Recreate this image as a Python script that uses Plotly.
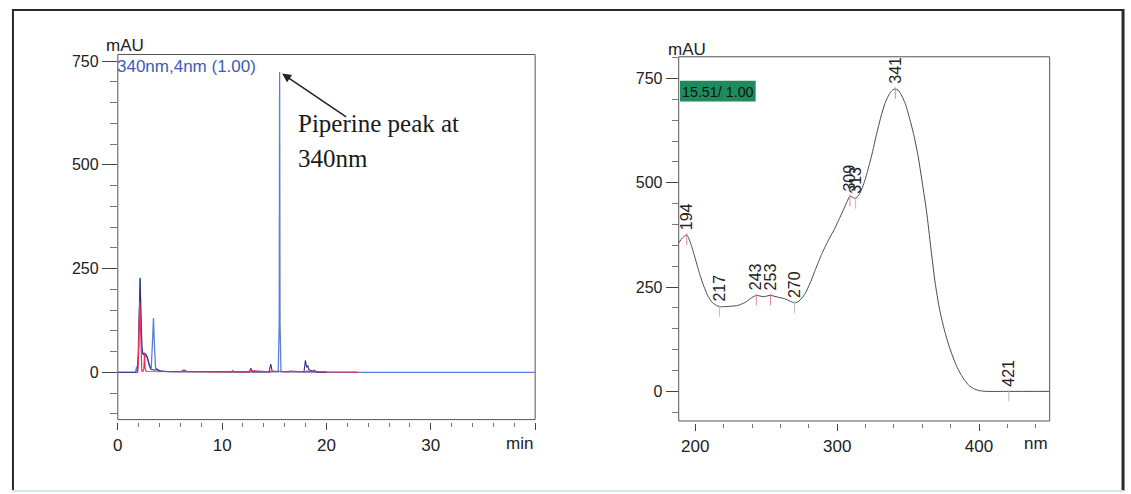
import numpy as np
import plotly.graph_objects as go

W, H = 1131, 494

# ---------------- chromatogram (retention time in min, signal in mAU) ----------------
# 340 nm channel
t_340 = [0, 1.70, 1.80, 1.86, 1.95, 2.05, 2.14, 2.24, 2.34, 2.50,
         2.80, 3.05, 3.20, 3.32, 3.42, 3.52, 3.62, 4.00, 5.00, 15.38,
         15.47, 15.51, 15.55, 15.64, 20.0, 40.0]
v_340 = [0, 0, 14, 3, 40, 160, 226, 120, 48, 42,
         36, 14, 10, 70, 131, 60, 10, 4, 1, 1,
         120, 724, 120, 1, 0, 0]

# second detector channel (dark trace)
t_dark = [0, 1.9, 2.0, 2.08, 2.14, 2.2, 2.3, 2.42, 2.55, 2.7,
          2.85, 3.0, 3.15, 3.5, 3.7, 3.9, 4.3, 6.1, 6.35, 6.6,
          12.6, 12.75, 12.9, 14.5, 14.66, 14.8, 17.85, 17.98, 18.1, 18.22,
          18.3, 18.45, 18.75, 18.85, 19.0, 20.0]
v_dark = [0, 0, 60, 200, 228, 150, 60, 44, 46, 43,
          35, 20, 8, 5, 7, 4, 2, 2, 6, 2,
          1, 10, 1, 1, 20, 2, 2, 29, 12, 16,
          7, 5, 3, 5, 1, 0]

# third channel (red trace)
t_red = [1.90, 1.98, 2.04, 2.10, 2.16, 2.22, 2.30, 2.40, 2.50, 2.56,
         2.62, 2.72, 3.0, 4.0, 6.3, 8.5, 10.9, 11.0, 11.1, 12.7,
         12.8, 14.6, 14.7, 16.4, 16.5, 18.0, 18.1, 20.0, 23.0]
v_red = [0, 30, 120, 170, 130, 40, 3, 2, 8, 45,
         10, 2, 2, 2, 2, 1, 1, 4, 1, 1,
         4, 1, 3, 1, 3, 1, 3, 1, 0.5]

# ---------------- UV spectrum of the 15.51 min peak ----------------
spec_nm = [188.3, 191, 194, 197, 200, 203, 206, 209, 212, 215,
           217, 220, 225, 230, 235, 240, 243, 248, 253, 258,
           263, 267, 270, 273, 277, 281, 285, 289, 292, 295,
           298, 301, 304, 307, 309, 311, 313, 316, 319, 322,
           325, 328, 331, 334, 337, 339, 341, 343, 345, 348,
           351, 354, 357, 360, 363, 366, 369, 372, 375, 378,
           381, 384, 387, 390, 393, 396, 400, 405, 421, 449.8]
spec_mau = [356, 368, 375, 352, 318, 282, 252, 228, 213, 206,
            203, 203, 204, 206, 213, 225, 230, 227, 230, 226,
            222, 216, 212, 216, 232, 260, 295, 328, 350, 370,
            388, 410, 432, 455, 468, 465, 462, 475, 500, 535,
            575, 620, 660, 693, 714, 722, 725, 722, 712, 690,
            655, 615, 565, 500, 432, 345, 262, 200, 155, 118,
            88, 62, 42, 26, 14, 7, 2, 0, 0, 0]

# labelled extrema of the spectrum
max_nm = [194, 243, 253, 309, 341]
min_nm = [217, 270, 313, 421]

chrom_ticks = [0, 10, 20, 30, 40]
chrom_ticktext = ["0", "10", "20", "30", ""]
spec_ticks = [200, 300, 400]
abs_ticks = [0, 250, 500, 750]

channel_label = "340nm,4nm (1.00)"
spectrum_tag = "15.51/ 1.00"

SANS = "Liberation Sans, Arial, sans-serif"
SERIF = "Liberation Serif, Times New Roman, serif"


def px(x):
    return x / W


def py(y):
    return 1 - y / H


fig = go.Figure()

# chromatogram traces
fig.add_trace(go.Scatter(x=t_340, y=v_340, mode="lines", xaxis="x", yaxis="y",
                         line=dict(color="#5b7fd6", width=1.3), hoverinfo="skip"))
fig.add_trace(go.Scatter(x=t_dark, y=v_dark, mode="lines", xaxis="x", yaxis="y",
                         line=dict(color="#2c3684", width=1.1), hoverinfo="skip"))
fig.add_trace(go.Scatter(x=t_red, y=v_red, mode="lines", xaxis="x", yaxis="y",
                         line=dict(color="#ec2f5b", width=1.2), hoverinfo="skip"))

# spectrum trace
fig.add_trace(go.Scatter(x=spec_nm, y=spec_mau, mode="lines", xaxis="x2", yaxis="y2",
                         line=dict(color="#4a4a4a", width=1, shape="spline", smoothing=0.6),
                         hoverinfo="skip"))


# small marker strokes under each labelled wavelength
def strokes(nms):
    xs, ys = [], []
    for n in nms:
        v = float(np.interp(n, spec_nm, spec_mau))
        xs += [n, n, None]
        ys += [v + 4, v - 24, None]
    return xs, ys


mx, my = strokes(max_nm)
fig.add_trace(go.Scatter(x=mx, y=my, mode="lines", xaxis="x2", yaxis="y2",
                         line=dict(color="#e9849b", width=1), hoverinfo="skip"))
nx, ny = strokes(min_nm)
fig.add_trace(go.Scatter(x=nx, y=ny, mode="lines", xaxis="x2", yaxis="y2",
                         line=dict(color="#bdbdbd", width=1), hoverinfo="skip"))

annotations = []
for n in sorted(max_nm + min_nm):
    v = float(np.interp(n, spec_nm, spec_mau))
    annotations.append(dict(x=n, y=v, xref="x2", yref="y2", text=str(n), textangle=-90,
                            showarrow=False, yanchor="bottom", xanchor="center", yshift=3,
                            font=dict(family=SANS, size=16, color="#222")))

# arrow to the piperine peak
peak_i = int(np.argmax(v_340))
annotations.append(dict(x=t_340[peak_i], y=v_340[peak_i], xref="x", yref="y", text="",
                        showarrow=True, arrowhead=2, arrowsize=1.2, arrowwidth=1.5,
                        arrowcolor="#222", ax=68, ay=46, standoff=3))
annotations.append(dict(x=px(292), y=py(122), xref="paper", yref="paper",
                        text="Piperine peak at", showarrow=False, xanchor="left", yanchor="middle",
                        font=dict(family=SERIF, size=25, color="#1a1a1a")))
annotations.append(dict(x=px(292), y=py(157), xref="paper", yref="paper",
                        text="340nm", showarrow=False, xanchor="left", yanchor="middle",
                        font=dict(family=SERIF, size=25, color="#1a1a1a")))

# channel caption and axis units
annotations.append(dict(x=px(110), y=py(65), xref="paper", yref="paper", text=channel_label,
                        showarrow=False, xanchor="left", yanchor="middle",
                        font=dict(family=SANS, size=17, color="#3d5cb8")))
annotations.append(dict(x=px(99), y=py(44), xref="paper", yref="paper", text="mAU",
                        showarrow=False, xanchor="left", yanchor="middle",
                        font=dict(family=SANS, size=17, color="#222")))
annotations.append(dict(x=px(664), y=py(48), xref="paper", yref="paper", text="mAU",
                        showarrow=False, xanchor="left", yanchor="middle",
                        font=dict(family=SANS, size=17, color="#222")))
annotations.append(dict(x=1, y=py(443), xref="x domain", yref="paper", text="min",
                        showarrow=False, xanchor="right", yanchor="middle",
                        font=dict(family=SANS, size=17, color="#222")))
annotations.append(dict(x=1, y=py(443), xref="x2 domain", yref="paper", text="nm",
                        showarrow=False, xanchor="right", yanchor="middle",
                        font=dict(family=SANS, size=17, color="#222")))
annotations.append(dict(x=px(678), y=py(90), xref="paper", yref="paper", text=spectrum_tag,
                        showarrow=False, xanchor="left", yanchor="middle",
                        font=dict(family=SANS, size=14.3, color="#111")))

shapes = [
    # plot boxes
    dict(type="rect", xref="x domain", yref="y domain", x0=0, x1=1, y0=0, y1=1,
         line=dict(color="#555", width=1), layer="above"),
    dict(type="rect", xref="x2 domain", yref="y2 domain", x0=0, x1=1, y0=0, y1=1,
         line=dict(color="#555", width=1), layer="above"),
    # spectrum tag background
    dict(type="rect", xref="paper", yref="paper", x0=px(678), x1=px(754), y0=py(100), y1=py(79),
         fillcolor="#1f8a5c", line=dict(width=0), layer="below"),
    # outer frame
    dict(type="line", xref="paper", yref="paper", x0=px(7), x1=px(1124), y0=py(8), y1=py(8),
         line=dict(color="#2a2a2a", width=2)),
    dict(type="line", xref="paper", yref="paper", x0=px(8), x1=px(8), y0=py(7), y1=py(491),
         line=dict(color="#2a2a2a", width=2)),
    dict(type="line", xref="paper", yref="paper", x0=px(1123), x1=px(1123), y0=py(7), y1=py(491),
         line=dict(color="#2a2a2a", width=3)),
    dict(type="line", xref="paper", yref="paper", x0=px(7), x1=px(1124), y0=py(491), y1=py(491),
         line=dict(color="#d3e5ea", width=2)),
]

tickfont_x = dict(family=SANS, size=17, color="#222")
tickfont_y = dict(family=SANS, size=16, color="#222")

fig.update_layout(
    width=W, height=H, margin=dict(l=0, r=0, t=0, b=0),
    paper_bgcolor="white", plot_bgcolor="white", showlegend=False,
    annotations=annotations, shapes=shapes,
    xaxis=dict(domain=[px(113.3), px(532.5)], range=[0, 40], anchor="free", position=py(422),
               showline=False, showgrid=False, zeroline=False,
               tickmode="array", tickvals=chrom_ticks, ticktext=chrom_ticktext,
               ticks="outside", ticklen=7, tickwidth=1, tickcolor="#444", tickfont=tickfont_x,
               minor=dict(tickmode="linear", tick0=0, dtick=2, ticks="outside", ticklen=4,
                          tickcolor="#777", showgrid=False)),
    yaxis=dict(domain=[py(419.3), py(52.7)], range=[-114, 766], anchor="x",
               showline=False, showgrid=False, zeroline=False,
               tickmode="array", tickvals=abs_ticks,
               ticks="outside", ticklen=15, tickwidth=1, tickcolor="#444", tickfont=tickfont_y,
               minor=dict(tickmode="linear", tick0=0, dtick=50, ticks="outside", ticklen=7,
                          tickcolor="#777", showgrid=False)),
    xaxis2=dict(domain=[px(676.7), px(1049.3)], range=[188.3, 449.8], anchor="free",
                position=py(423),
                showline=False, showgrid=False, zeroline=False,
                tickmode="array", tickvals=spec_ticks,
                ticks="outside", ticklen=7, tickwidth=1, tickcolor="#444", tickfont=tickfont_x,
                minor=dict(tickmode="linear", tick0=200, dtick=20, ticks="outside", ticklen=4,
                           tickcolor="#777", showgrid=False)),
    yaxis2=dict(domain=[py(420.7), py(55)], range=[-71, 802], anchor="x2",
                showline=False, showgrid=False, zeroline=False,
                tickmode="array", tickvals=abs_ticks,
                ticks="outside", ticklen=12, tickwidth=1, tickcolor="#444", tickfont=tickfont_y,
                minor=dict(tickmode="linear", tick0=0, dtick=50, ticks="outside", ticklen=6,
                           tickcolor="#777", showgrid=False)),
)

fig.write_html("out.html")
